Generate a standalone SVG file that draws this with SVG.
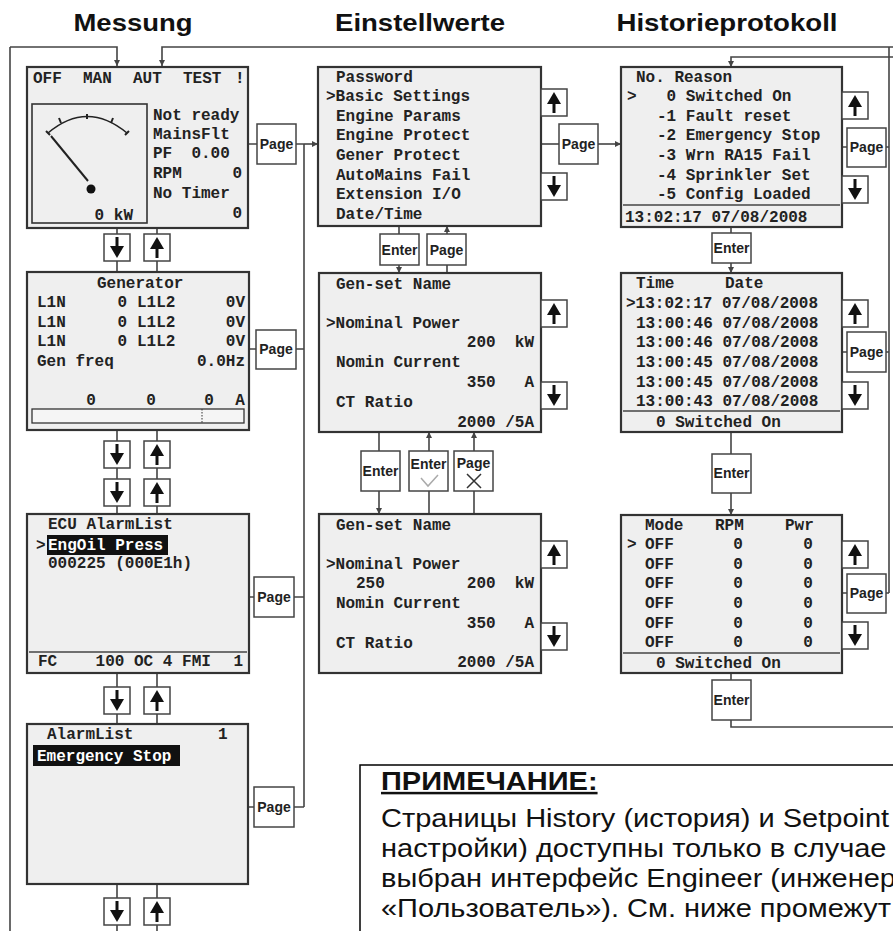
<svg xmlns="http://www.w3.org/2000/svg" xmlns:xlink="http://www.w3.org/1999/xlink" width="893" height="931" viewBox="0 0 893 931">
<style>
.scr{fill:#efefef;stroke:#333;stroke-width:2.2}
.btn{fill:#fff;stroke:#444;stroke-width:1.5}
.ln{fill:none;stroke:#444;stroke-width:1.6}
.sep{fill:none;stroke:#444;stroke-width:1.5}
.m{font-family:"Liberation Mono","Courier New",monospace;font-weight:bold;font-size:16px;fill:#222;white-space:pre}
.mw{font-family:"Liberation Mono","Courier New",monospace;font-weight:bold;font-size:16px;fill:#fff;white-space:pre}
.e{text-anchor:end}
.c{text-anchor:middle}
.b{font-family:"Liberation Sans",Arial,sans-serif;font-weight:bold;font-size:14px;fill:#222;text-anchor:middle}
.ttl{font-family:"Liberation Sans",Arial,sans-serif;font-weight:bold;font-size:24px;fill:#111;text-anchor:middle}
.nt{font-family:"Liberation Sans",Arial,sans-serif;font-size:25px;fill:#111}
</style>
<defs>
<marker id="ah" viewBox="0 0 8 8" refX="8" refY="4" markerWidth="6" markerHeight="6" orient="auto" markerUnits="userSpaceOnUse"><path d="M0,0 L8,4 L0,8 z" fill="#444"/></marker>
<g id="upbtn"><rect class="btn" width="26" height="27"/><path d="M13,24 V12" stroke="#111" stroke-width="3"/><path d="M6,15 L13,3 L20,15 Z" fill="#111"/></g>
<g id="dnbtn"><rect class="btn" width="26" height="27"/><path d="M13,3 V15" stroke="#111" stroke-width="3"/><path d="M6,12 L13,24 L20,12 Z" fill="#111"/></g>
</defs>
<rect width="893" height="931" fill="#fff"/>

<g id="titles">
<text class="ttl" x="133" y="31" textLength="119" lengthAdjust="spacingAndGlyphs">Messung</text>
<text class="ttl" x="420" y="31" textLength="170" lengthAdjust="spacingAndGlyphs">Einstellwerte</text>
<text class="ttl" x="727" y="31" textLength="221" lengthAdjust="spacingAndGlyphs">Historieprotokoll</text>
</g>

<g id="connectors">
<path class="ln" d="M10,47 V931"/>
<path class="ln" d="M10,47 H117 V66" marker-end="url(#ah)"/>
<path class="ln" d="M893,47 H162 V66" marker-end="url(#ah)"/>
<path class="ln" d="M889,47 V593"/>
<path class="ln" d="M893,57 H731 V67" marker-end="url(#ah)"/>
<path class="ln" d="M117,228 V234 M117,261 V272 M117,430 V441 M117,468 V479 M117,506 V514 M117,673 V687 M117,714 V724 M117,884 V898 M117,925 V931"/>
<path class="ln" d="M157,228 V234 M157,261 V272 M157,430 V441 M157,468 V479 M157,506 V514 M157,673 V687 M157,714 V724 M157,884 V898 M157,925 V931"/>
<path class="ln" d="M248,144 H257 M296,144 H304 M249,349 H256 M296,349 H304 M249,597 H254 M294,597 H304 M248,807 H254 M294,807 H304"/>
<path class="ln" d="M304,144 V807"/>
<path class="ln" d="M304,144 H318" marker-end="url(#ah)"/>
<path class="ln" d="M541,144 H559"/>
<path class="ln" d="M598,144 H621" marker-end="url(#ah)"/>
<path class="ln" d="M399,226 V234"/>
<path class="ln" d="M399,265 V273" marker-end="url(#ah)"/>
<path class="ln" d="M447,234 V226" marker-end="url(#ah)"/>
<path class="ln" d="M447,265 V273"/>
<path class="ln" d="M379,432 V451"/>
<path class="ln" d="M379,491 V514" marker-end="url(#ah)"/>
<path class="ln" d="M429,514 V491"/>
<path class="ln" d="M429,451 V432" marker-end="url(#ah)"/>
<path class="ln" d="M474,514 V491"/>
<path class="ln" d="M474,451 V432" marker-end="url(#ah)"/>
<path class="ln" d="M842,147 H847 M886,147 H889 M842,352 H847 M886,352 H889 M842,593 H847 M886,593 H889"/>
<path class="ln" d="M731,227 V233"/>
<path class="ln" d="M731,263 V273" marker-end="url(#ah)"/>
<path class="ln" d="M731,432 V454"/>
<path class="ln" d="M731,493 V515" marker-end="url(#ah)"/>
<path class="ln" d="M731,673 V680 M731,720 V727 H893"/>
</g>

<g id="mess1">
<rect class="scr" x="27" y="67" width="221" height="161"/>
<text class="m" x="33" y="83">OFF</text><text class="m" x="83" y="83">MAN</text><text class="m" x="133" y="83">AUT</text><text class="m" x="183" y="83">TEST</text><text class="m" x="235" y="83">!</text>
<rect x="32" y="104" width="115" height="119" fill="#efefef" stroke="#333" stroke-width="1.6"/>
<path d="M48,133 Q87,100 127,133" fill="none" stroke="#222" stroke-width="1.6"/>
<path d="M46,131 L50,135 M59,118 L61,123 M87,114 L87,119 M113,118 L111,123 M129,131 L125,135" stroke="#222" stroke-width="2"/>
<path d="M51,136 L88,181" stroke="#222" stroke-width="2"/>
<circle cx="91" cy="189" r="4.5" fill="#111"/>
<text class="m e" x="133" y="220">0 kW</text>
<text class="m" x="153" y="120">Not ready</text>
<text class="m" x="153" y="139">MainsFlt</text>
<text class="m" x="153" y="158">PF  0.00</text>
<text class="m" x="153" y="178">RPM</text><text class="m e" x="242" y="178">0</text>
<text class="m" x="153" y="198">No Timer</text>
<text class="m e" x="242" y="218">0</text>
</g>
<g id="mess1-page"><rect class="btn" x="257" y="124" width="39" height="40"/><text class="b" x="276.5" y="149">Page</text></g>
<g id="btnA"><use xlink:href="#dnbtn" x="104" y="234"/><use xlink:href="#upbtn" x="144" y="234"/></g>

<g id="mess2">
<rect class="scr" x="27" y="272" width="222" height="158"/>
<text class="m" x="97" y="288">Generator</text>
<text class="m" x="37" y="307">L1N</text><text class="m e" x="127" y="307">0</text><text class="m" x="137" y="307">L1L2</text><text class="m e" x="245" y="307">0V</text>
<text class="m" x="37" y="327">L1N</text><text class="m e" x="127" y="327">0</text><text class="m" x="137" y="327">L1L2</text><text class="m e" x="245" y="327">0V</text>
<text class="m" x="37" y="346">L1N</text><text class="m e" x="127" y="346">0</text><text class="m" x="137" y="346">L1L2</text><text class="m e" x="245" y="346">0V</text>
<text class="m" x="37" y="366">Gen freq</text><text class="m e" x="245" y="366">0.0Hz</text>
<text class="m c" x="91" y="405">0</text><text class="m c" x="151" y="405">0</text><text class="m c" x="209" y="405">0</text><text class="m c" x="240" y="405">A</text>
<rect x="32" y="409" width="212" height="14" fill="#f5f5f5" stroke="#333" stroke-width="1.3"/>
<path d="M202,409 V423" stroke="#333" stroke-width="1" stroke-dasharray="1.5,1.5"/>
</g>
<g id="mess2-page"><rect class="btn" x="256" y="330" width="40" height="39"/><text class="b" x="276" y="354">Page</text></g>
<g id="btnC"><use xlink:href="#dnbtn" x="104" y="441"/><use xlink:href="#upbtn" x="144" y="441"/></g>
<g id="btnD"><use xlink:href="#dnbtn" x="104" y="479"/><use xlink:href="#upbtn" x="144" y="479"/></g>

<g id="mess3">
<rect class="scr" x="27" y="514" width="222" height="159"/>
<text class="m" x="48" y="529">ECU AlarmList</text>
<rect x="47" y="535" width="121" height="20" fill="#111"/>
<text class="m" x="36" y="550">&gt;</text><text class="mw" x="48" y="550">EngOil Press</text>
<text class="m" x="48" y="568">000225 (000E1h)</text>
<path class="sep" d="M29,652 H247"/>
<text class="m" x="38" y="666">FC    100 OC 4 FMI</text><text class="m e" x="243" y="666">1</text>
</g>
<g id="mess3-page"><rect class="btn" x="254" y="577" width="40" height="40"/><text class="b" x="274" y="602">Page</text></g>
<g id="btnE"><use xlink:href="#dnbtn" x="104" y="687"/><use xlink:href="#upbtn" x="144" y="687"/></g>

<g id="mess4">
<rect class="scr" x="27" y="724" width="221" height="160"/>
<text class="m" x="47" y="739">AlarmList</text><text class="m" x="218" y="739">1</text>
<rect x="33" y="745" width="147" height="21" fill="#111"/>
<text class="mw" x="37" y="761">Emergency Stop</text>
</g>
<g id="mess4-page"><rect class="btn" x="254" y="787" width="40" height="40"/><text class="b" x="274" y="812">Page</text></g>
<g id="btnF"><use xlink:href="#dnbtn" x="104" y="898"/><use xlink:href="#upbtn" x="144" y="898"/></g>

<g id="set1">
<rect class="scr" x="318" y="67" width="223" height="159"/>
<text class="m" x="336" y="82">Password</text>
<text class="m" x="326" y="101">&gt;Basic Settings</text>
<text class="m" x="336" y="121">Engine Params</text>
<text class="m" x="336" y="140">Engine Protect</text>
<text class="m" x="336" y="160">Gener Protect</text>
<text class="m" x="336" y="180">AutoMains Fail</text>
<text class="m" x="336" y="199">Extension I/O</text>
<text class="m" x="336" y="219">Date/Time</text>
</g>
<g id="set1-nav"><use xlink:href="#upbtn" x="541" y="89"/><use xlink:href="#dnbtn" x="541" y="173"/></g>
<g id="set1-page"><rect class="btn" x="559" y="124" width="39" height="40"/><text class="b" x="578.5" y="149">Page</text></g>
<g id="set1-enter"><rect class="btn" x="380" y="234" width="39" height="31"/><text class="b" x="399.5" y="255">Enter</text></g>
<g id="set1-page2"><rect class="btn" x="427" y="234" width="39" height="31"/><text class="b" x="446.5" y="255">Page</text></g>

<g id="set2">
<rect class="scr" x="319" y="273" width="222" height="159"/>
<text class="m" x="336" y="289">Gen-set Name</text>
<text class="m" x="326" y="328">&gt;Nominal Power</text>
<text class="m e" x="534" y="347">200  kW</text>
<text class="m" x="336" y="367">Nomin Current</text>
<text class="m e" x="534" y="387">350   A</text>
<text class="m" x="336" y="407">CT Ratio</text>
<text class="m e" x="534" y="427">2000 /5A</text>
</g>
<g id="set2-nav"><use xlink:href="#upbtn" x="541" y="300"/><use xlink:href="#dnbtn" x="541" y="382"/></g>
<g id="set2-enter"><rect class="btn" x="361" y="451" width="39" height="40"/><text class="b" x="380.5" y="476">Enter</text></g>
<g id="set2-ok"><rect class="btn" x="409" y="451" width="39" height="40"/><text class="b" x="428.5" y="469">Enter</text><path d="M421,478 L428,486 L438,475" fill="none" stroke="#aaa" stroke-width="1.5"/></g>
<g id="set2-cancel"><rect class="btn" x="454" y="451" width="39" height="40"/><text class="b" x="473.5" y="468">Page</text><path d="M467,474 L481,488 M481,474 L467,488" fill="none" stroke="#333" stroke-width="1.5"/></g>

<g id="set3">
<rect class="scr" x="319" y="514" width="222" height="159"/>
<text class="m" x="336" y="530">Gen-set Name</text>
<text class="m" x="326" y="569">&gt;Nominal Power</text>
<text class="m" x="356" y="588">250</text>
<text class="m e" x="534" y="588">200  kW</text>
<text class="m" x="336" y="608">Nomin Current</text>
<text class="m e" x="534" y="628">350   A</text>
<text class="m" x="336" y="648">CT Ratio</text>
<text class="m e" x="534" y="667">2000 /5A</text>
</g>
<g id="set3-nav"><use xlink:href="#upbtn" x="541" y="541"/><use xlink:href="#dnbtn" x="541" y="623"/></g>

<g id="hist1">
<rect class="scr" x="621" y="67" width="221" height="160"/>
<text class="m" x="636" y="82">No. Reason</text>
<text class="m" x="627" y="101">&gt;</text><text class="m" x="657" y="101"> 0 Switched On</text>
<text class="m" x="657" y="121">-1 Fault reset</text>
<text class="m" x="657" y="140">-2 Emergency Stop</text>
<text class="m" x="657" y="160">-3 Wrn RA15 Fail</text>
<text class="m" x="657" y="180">-4 Sprinkler Set</text>
<text class="m" x="657" y="199">-5 Config Loaded</text>
<path class="sep" d="M623,205 H840"/>
<text class="m" x="625" y="222">13:02:17 07/08/2008</text>
</g>
<g id="hist1-nav"><use xlink:href="#upbtn" x="842" y="92"/><use xlink:href="#dnbtn" x="842" y="176"/></g>
<g id="hist1-page"><rect class="btn" x="847" y="128" width="39" height="39"/><text class="b" x="866.5" y="152">Page</text></g>
<g id="hist1-enter"><rect class="btn" x="712" y="233" width="39" height="30"/><text class="b" x="731.5" y="253">Enter</text></g>

<g id="hist2">
<rect class="scr" x="621" y="273" width="221" height="159"/>
<text class="m" x="636" y="288">Time</text><text class="m" x="725" y="288">Date</text>
<text class="m" x="626" y="308">&gt;13:02:17 07/08/2008</text>
<text class="m" x="636" y="328">13:00:46 07/08/2008</text>
<text class="m" x="636" y="347">13:00:46 07/08/2008</text>
<text class="m" x="636" y="367">13:00:45 07/08/2008</text>
<text class="m" x="636" y="387">13:00:45 07/08/2008</text>
<text class="m" x="636" y="406">13:00:43 07/08/2008</text>
<path class="sep" d="M623,411 H840"/>
<text class="m" x="656" y="427">0 Switched On</text>
</g>
<g id="hist2-nav"><use xlink:href="#upbtn" x="842" y="300"/><use xlink:href="#dnbtn" x="842" y="382"/></g>
<g id="hist2-page"><rect class="btn" x="847" y="332" width="39" height="40"/><text class="b" x="866.5" y="357">Page</text></g>
<g id="hist2-enter"><rect class="btn" x="712" y="454" width="39" height="39"/><text class="b" x="731.5" y="478">Enter</text></g>

<g id="hist3">
<rect class="scr" x="621" y="515" width="221" height="158"/>
<text class="m" x="645" y="530">Mode</text><text class="m" x="715" y="530">RPM</text><text class="m" x="785" y="530">Pwr</text>
<text class="m" x="627" y="549">&gt;</text>
<text class="m" x="645" y="549">OFF</text><text class="m c" x="738" y="549">0</text><text class="m c" x="808" y="549">0</text>
<text class="m" x="645" y="569">OFF</text><text class="m c" x="738" y="569">0</text><text class="m c" x="808" y="569">0</text>
<text class="m" x="645" y="588">OFF</text><text class="m c" x="738" y="588">0</text><text class="m c" x="808" y="588">0</text>
<text class="m" x="645" y="608">OFF</text><text class="m c" x="738" y="608">0</text><text class="m c" x="808" y="608">0</text>
<text class="m" x="645" y="628">OFF</text><text class="m c" x="738" y="628">0</text><text class="m c" x="808" y="628">0</text>
<text class="m" x="645" y="647">OFF</text><text class="m c" x="738" y="647">0</text><text class="m c" x="808" y="647">0</text>
<path class="sep" d="M623,653 H840"/>
<text class="m" x="656" y="668">0 Switched On</text>
</g>
<g id="hist3-nav"><use xlink:href="#upbtn" x="842" y="541"/><use xlink:href="#dnbtn" x="842" y="622"/></g>
<g id="hist3-page"><rect class="btn" x="847" y="574" width="39" height="39"/><text class="b" x="866.5" y="598">Page</text></g>
<g id="hist3-enter"><rect class="btn" x="712" y="680" width="39" height="40"/><text class="b" x="731.5" y="705">Enter</text></g>

<g id="note">
<rect x="360" y="765" width="580" height="200" fill="#fff" stroke="#000" stroke-width="1.5"/>
<g transform="translate(381 0) scale(1.16 1)">
<text class="nt" x="0" y="790" font-weight="bold" text-decoration="underline">ПРИМЕЧАНИЕ:</text>
<text class="nt" x="0" y="827">Страницы History (история) и Setpoint</text>
<text class="nt" x="0" y="857">настройки) доступны только в случае</text>
<text class="nt" x="0" y="887">выбран интерфейс Engineer (инженер</text>
<text class="nt" x="0" y="917">«Пользователь»). См. ниже промежут</text>
</g>
</g>
</svg>
